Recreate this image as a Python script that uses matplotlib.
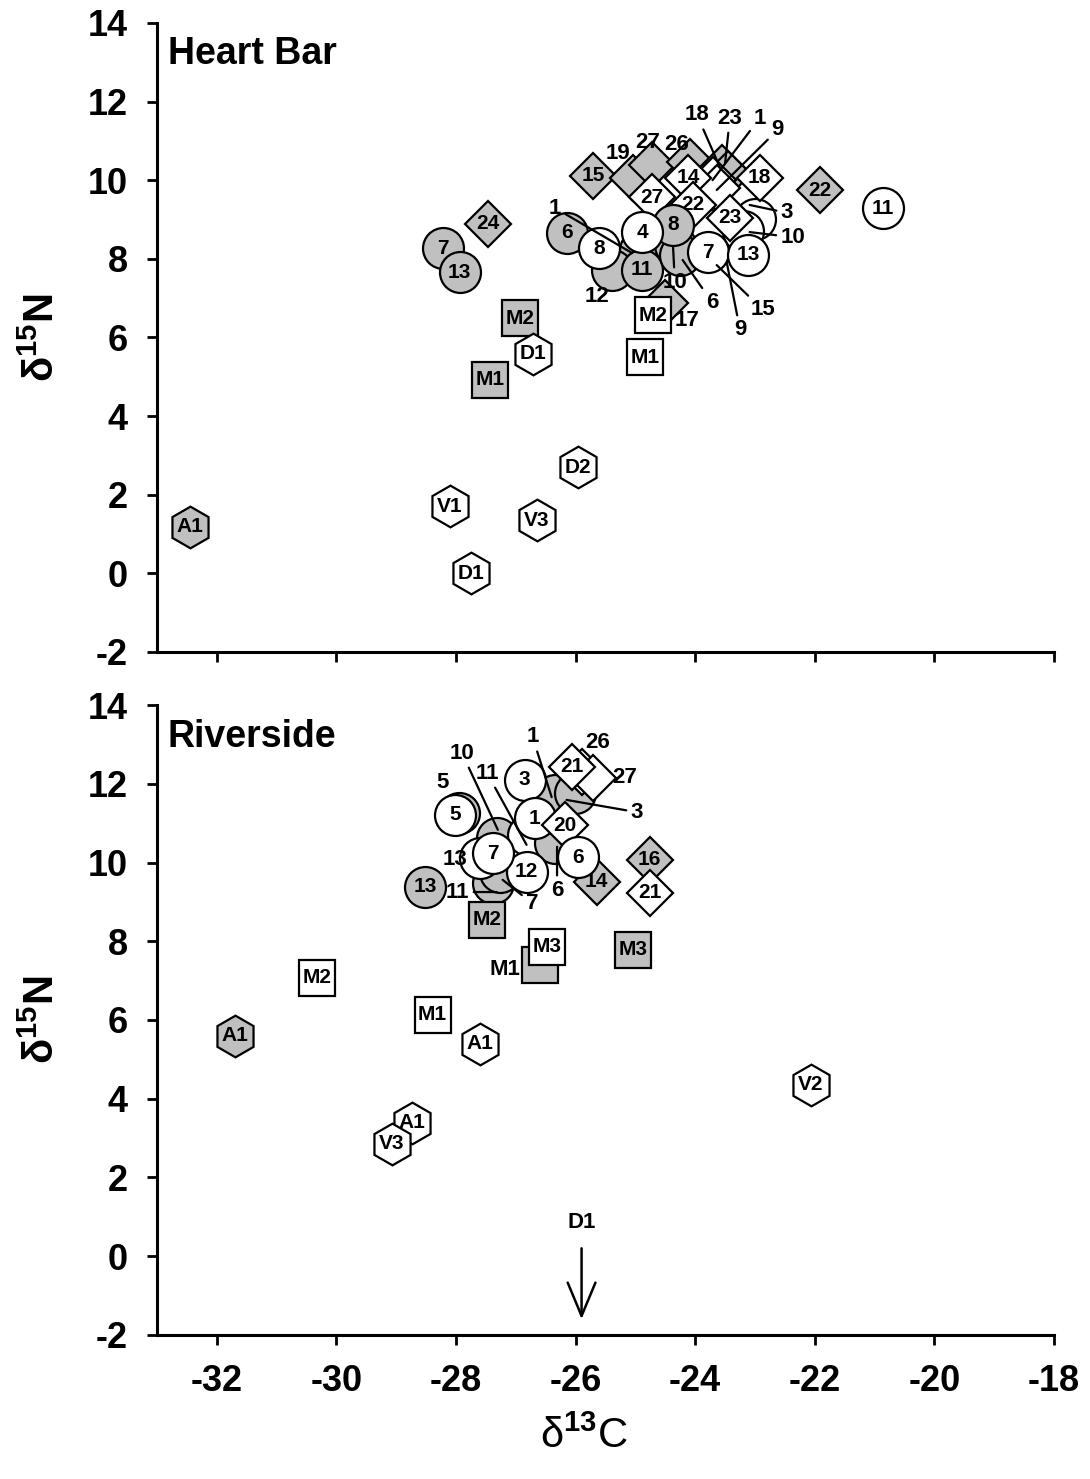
import matplotlib
matplotlib.use('Agg')
import matplotlib.pyplot as plt

plt.rcParams['font.family'] = ['Liberation Sans', 'DejaVu Sans']
plt.rcParams['font.weight'] = 'bold'
plt.rcParams['axes.unicode_minus'] = False
plt.rcParams['mathtext.fontset'] = 'custom'
plt.rcParams['mathtext.rm'] = 'Liberation Sans'
plt.rcParams['mathtext.bf'] = 'Liberation Sans:bold'

# ---- Heart Bar (drawn in list order, back to front) ----
hb_x = [-27.47, -25.71, -25.04, -24.73, -24.09, -23.55, -23.45, -21.92, -24.51,
        -23.55, -23.76, -23.00, -23.20,
        -23.71, -23.64, -24.73, -24.12, -24.04, -22.92, -23.42,
        -28.22, -27.94, -26.15, -24.93, -25.39, -24.89, -24.34, -24.26, -24.37,
        -25.61, -24.89, -23.79, -23.12, -20.86,
        -24.71, -24.84, -26.93, -27.43,
        -26.72, -32.45, -28.10, -27.75, -26.65, -25.96]
hb_y = [8.89, 10.11, 10.06, 10.39, 10.46, 10.30, 10.15, 9.75, 6.88,
        8.45, 8.73, 9.00, 8.70,
        10.00, 9.80, 9.57, 10.06, 9.37, 10.06, 9.04,
        8.27, 7.66, 8.66, 8.22, 7.72, 7.72, 8.35, 8.10, 8.86,
        8.27, 8.68, 8.17, 8.10, 9.29,
        6.57, 5.50, 6.49, 4.92,
        5.58, 1.18, 1.71, 0.00, 1.35, 2.70]
hb_shape = ['D'] * 9 + ['o'] * 4 + ['D'] * 7 + ['o'] * 14 + ['s'] * 4 + ['h'] * 6
hb_fill = ['g'] * 9 + ['w'] * 4 + ['w'] * 7 + ['g'] * 9 + ['w'] * 5 + ['w', 'w', 'g', 'g'] + \
          ['w', 'g', 'w', 'w', 'w', 'w']
hb_label = ['24', '15', '', '', '', '', '', '22', '',
            '', '', '', '',
            '', '', '27', '14', '22', '18', '23',
            '7', '13', '6', '', '', '11', '', '', '8',
            '8', '4', '7', '13', '11',
            'M2', 'M1', 'M2', 'M1',
            'D1', 'A1', 'V1', 'D1', 'V3', 'D2']
# callouts: text, text x, text y, tip x, tip y (None = no leader line)
hb_callouts = [
    ('18', -23.97, 11.66, -23.59, 10.34),
    ('23', -23.42, 11.58, -23.50, 10.44),
    ('1', -22.92, 11.58, -23.71, 10.00),
    ('9', -22.62, 11.28, -23.64, 9.75),
    ('19', -25.29, 10.69, None, None),
    ('27', -24.79, 10.95, None, None),
    ('26', -24.31, 10.90, None, None),
    ('3', -22.47, 9.17, -23.09, 9.37),
    ('10', -22.37, 8.55, -23.09, 8.68),
    ('1', -26.34, 9.29, -25.06, 8.15),
    ('12', -25.65, 7.05, None, None),
    ('10', -24.34, 7.41, -24.37, 8.30),
    ('6', -23.72, 6.90, -24.21, 7.97),
    ('9', -23.25, 6.19, -23.47, 7.89),
    ('15', -22.87, 6.70, -23.64, 7.84),
    ('17', -24.14, 6.44, None, None),
]

# ---- Riverside ----
rs_x = [-25.65, -24.76, -24.76, -27.95, -28.02, -28.52, -26.35, -26.01,
        -25.90, -25.71, -26.06, -26.85, -27.32, -26.80, -26.35, -26.68,
        -27.38, -27.27, -27.60, -26.82, -27.38, -26.18, -25.96,
        -26.60, -26.48, -27.48, -25.04, -30.33, -28.39,
        -31.70, -27.60, -28.74, -29.07, -22.07]
rs_y = [9.51, 10.07, 9.23, 11.27, 11.21, 9.38, 11.72, 11.77,
        12.30, 12.15, 12.43, 12.10, 10.62, 10.70, 10.50, 11.13,
        9.48, 9.76, 10.12, 9.76, 10.24, 10.95, 10.14,
        7.40, 7.86, 8.54, 7.78, 7.07, 6.13,
        5.60, 5.40, 3.39, 2.86, 4.36]
rs_shape = ['D', 'D', 'D', 'o', 'o', 'o', 'o', 'o',
            'D', 'D', 'D', 'o', 'o', 'o', 'o', 'o',
            'o', 'o', 'o', 'o', 'o', 'D', 'o',
            's', 's', 's', 's', 's', 's',
            'h', 'h', 'h', 'h', 'h']
rs_fill = ['g', 'g', 'w', 'g', 'w', 'g', 'g', 'g',
           'w', 'w', 'w', 'w', 'g', 'w', 'g', 'w',
           'g', 'g', 'w', 'w', 'w', 'w', 'w',
           'g', 'w', 'g', 'g', 'w', 'w',
           'g', 'w', 'w', 'w', 'w']
rs_label = ['14', '16', '21', '', '5', '13', '', '',
            '', '', '21', '3', '', '', '', '1',
            '', '', '', '12', '7', '20', '6',
            '', 'M3', 'M2', 'M3', 'M2', 'M1',
            'A1', 'A1', 'A1', 'V3', 'V2']
rs_callouts = [
    ('5', -28.22, 12.02, None, None),
    ('10', -27.90, 12.78, -27.30, 10.83),
    ('11', -27.48, 12.27, -26.82, 10.45),
    ('1', -26.72, 13.19, -26.40, 11.66),
    ('26', -25.63, 13.06, None, None),
    ('27', -25.18, 12.15, None, None),
    ('3', -24.98, 11.28, -26.15, 11.59),
    ('13', -28.02, 10.07, None, None),
    ('11', -27.97, 9.25, -27.32, 9.25),
    ('7', -26.73, 8.97, -27.22, 9.56),
    ('6', -26.31, 9.30, -26.31, 10.40),
    ('M1', -27.18, 7.27, None, None),
]
rs_arrow = ('D1', -25.90, 0.85, 0.2, -1.6)

colors = {'g': '#c0c0c0', 'w': 'white'}
msizes = {'o': 29.5, 'D': 23.5, 's': 26, 'h': 30}


def draw_panel(ax, xs, ys, shapes, fills, labels, callouts, title):
    z = 3
    for x, y, m, f, lab in zip(xs, ys, shapes, fills, labels):
        ax.plot(x, y, marker=m, ms=msizes[m], mfc=colors[f], mec='black',
                mew=1.6, linestyle='None', zorder=z, clip_on=False)
        if lab:
            ax.text(x, y, lab, ha='center', va='center', fontsize=15,
                    fontweight='bold', zorder=z + 0.005)
        z += 0.01
    for lab, tx, ty, px, py in callouts:
        if px is None:
            ax.text(tx, ty, lab, ha='center', va='center', fontsize=16,
                    fontweight='bold', zorder=10)
        else:
            ax.annotate(lab, xy=(px, py), xytext=(tx, ty), ha='center', va='center',
                        fontsize=16, fontweight='bold', zorder=10,
                        arrowprops=dict(arrowstyle='-', lw=1.6, color='black',
                                        shrinkA=1, shrinkB=0))
    ax.set_xlim(-33, -18)
    ax.set_ylim(-2, 14)
    ax.set_xticks(range(-32, -17, 2))
    ax.set_yticks(range(-2, 15, 2))
    for s in ['top', 'right']:
        ax.spines[s].set_visible(False)
    for s in ['left', 'bottom']:
        ax.spines[s].set_linewidth(2.2)
    ax.tick_params(direction='out', length=7, width=2, labelsize=26, pad=14)
    ax.text(0.012, 0.95, title, transform=ax.transAxes, fontsize=27,
            fontweight='bold', ha='left', va='center')
    ax.set_ylabel(r'δ$^{\mathbf{15}}$N', fontsize=30, fontweight='bold')
    ax.yaxis.set_label_coords(-0.105, 0.5)


fig = plt.figure(figsize=(10.9, 14.79), dpi=100)
ax1 = fig.add_axes([0.144, 0.5592, 0.823, 0.4253])
ax2 = fig.add_axes([0.144, 0.0974, 0.823, 0.4259])

draw_panel(ax1, hb_x, hb_y, hb_shape, hb_fill, hb_label, hb_callouts, 'Heart Bar')
draw_panel(ax2, rs_x, rs_y, rs_shape, rs_fill, rs_label, rs_callouts, 'Riverside')
ax1.tick_params(labelbottom=False)

lab, ax_x, ty, y0, y1 = rs_arrow
ax2.text(ax_x, ty, lab, ha='center', va='center', fontsize=16, fontweight='bold')
ax2.annotate('', xy=(ax_x, y1), xytext=(ax_x, y0),
             arrowprops=dict(arrowstyle='->,head_length=1.2,head_width=0.5',
                             mutation_scale=20, lw=1.8, color='black',
                             shrinkA=0, shrinkB=0))

ax2.set_xlabel(r'δ$^{13}$C', fontsize=30, fontweight='normal')
ax2.xaxis.set_label_coords(0.476, -0.13)

fig.savefig('out.png', dpi=100)
